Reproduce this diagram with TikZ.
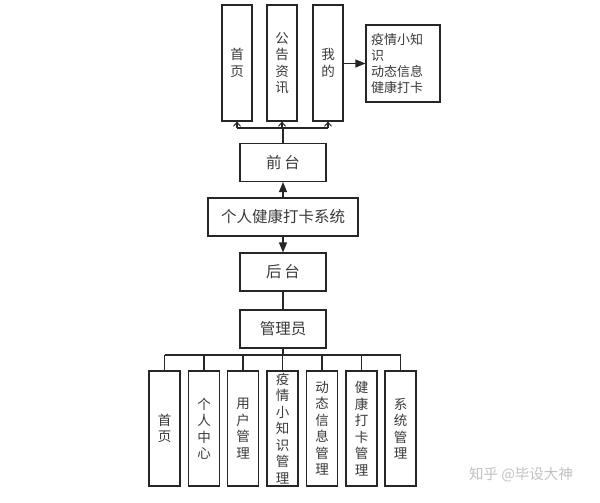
\documentclass[tikz,border=0pt]{standalone}
\usepackage{fontspec}
\setmainfont{Noto Sans CJK SC}
\usetikzlibrary{arrows.meta}
\definecolor{txt}{HTML}{3A3A3A}
\definecolor{ln}{HTML}{262626}
\tikzset{
  box/.style={draw=ln, line width=1.1pt, fill=white, inner sep=0pt, text=txt, align=center},
  colbox/.style={box, minimum width=#1, font=\fontsize{13.5}{16.5}\selectfont},
  midbox/.style={box, minimum height=38pt, font=\fontsize{15.5}{16}\selectfont},
  conn/.style={draw=ln, line width=1.1pt},
  openarr/.style={conn, -{Straight Barb[length=4pt,width=7pt,line width=1pt]}},
  fillarr/.style={conn, -{Triangle[length=10pt,width=8pt]}},
}
\begin{document}
\begin{tikzpicture}[x=1pt,y=-1pt]
\useasboundingbox (0,0) rectangle (600,503);
\fill[white] (0,0) rectangle (600,503);

% top row
\node[colbox=30pt, minimum height=116pt] (sy) at (237,63) {首\\页};
\node[colbox=30pt, minimum height=116pt] (gg) at (282,63) {公\\告\\资\\讯};
\node[colbox=30pt, minimum height=116pt] (wd) at (328,63) {我\\的};
\node[box, minimum width=74pt, minimum height=77pt, font=\fontsize{13}{16}\selectfont, align=left, text width=64pt] (info) at (403,63.5) {疫情小知\\识\\动态信息\\健康打卡};

% middle column
\node[midbox, minimum width=86pt] (qt) at (283,162.5) {前\,台};
\node[midbox, minimum width=150pt] (sys) at (283,217) {个人健康打卡系统};
\node[midbox, minimum width=86pt] (ht) at (283,272) {后\,台};
\node[midbox, minimum width=86pt] (gly) at (283,329) {管理员};

% bottom row
\foreach \i/\x/\t in {1/164.5/{首\\页},2/204/{个\\人\\中\\心},3/243/{用\\户\\管\\理},4/282.5/{疫\\情\\小\\知\\识\\管\\理},5/322/{动\\态\\信\\息\\管\\理},6/361.5/{健\\康\\打\\卡\\管\\理},7/400.5/{系\\统\\管\\理}}{
  \node[colbox=31pt, minimum height=115pt] (b\i) at (\x,428.5) {\t};
}

% top bus
\coordinate (tbus) at (283,128);
\coordinate (tbL) at (sy.south |- tbus);
\coordinate (tbM) at (gg.south |- tbus);
\coordinate (tbR) at (wd.south |- tbus);
\draw[conn] (qt.north) -- (tbus);
\draw[conn] (tbL) -- (tbR);
\draw[openarr] (tbL) -- (sy.south);
\draw[openarr] (tbM) -- (gg.south);
\draw[openarr] (tbR) -- (wd.south);
\draw[fillarr] (wd.east |- info.west) -- (info.west);

% middle arrows
\draw[fillarr] (sys.north) -- (qt.south);
\draw[fillarr] (sys.south) -- (ht.north);
\draw[conn] (ht.south) -- (gly.north);

% bottom bus
\coordinate (bbus) at (283,355);
\draw[conn] (gly.south) -- (bbus);
\draw[conn] (b1.north |- bbus) -- (b7.north |- bbus);
\foreach \i in {1,...,7}{
  \draw[conn] (b\i.north |- bbus) -- (b\i.north);
}

% watermark
\node[text=black!24, font=\fontsize{14.5}{15}\selectfont, inner sep=0pt] (wm) at (521,475) {知乎 @毕设大神};
\end{tikzpicture}
\end{document}
